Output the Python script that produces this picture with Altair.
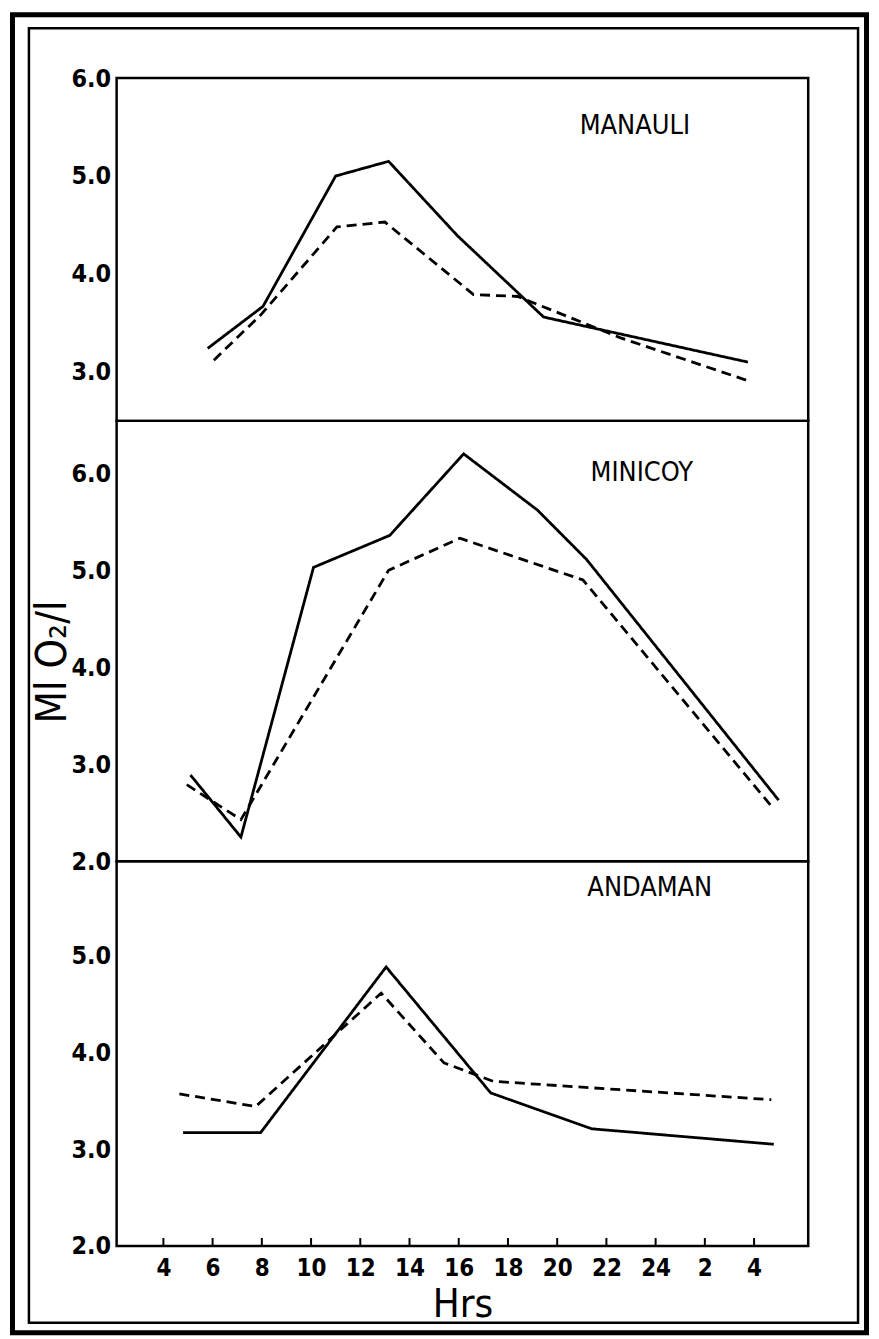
import altair as alt
import pandas as pd

# ---------------- data ----------------
STATIONS = ["MANAULI", "MINICOY", "ANDAMAN"]

MANAULI_SOLID_HRS = [5.8, 8.05, 11.0, 13.15, 15.95, 19.45, 27.75]
MANAULI_SOLID_VAL = [3.24, 3.67, 5.00, 5.15, 4.39, 3.56, 3.10]
MANAULI_DASH_HRS = [6.05, 7.95, 11.05, 13.0, 16.6, 18.4, 22.55, 27.75]
MANAULI_DASH_VAL = [3.12, 3.58, 4.48, 4.53, 3.79, 3.77, 3.35, 2.91]

MINICOY_SOLID_HRS = [5.1, 7.15, 10.1, 13.2, 16.2, 19.2, 21.2, 29.0]
MINICOY_SOLID_VAL = [2.89, 2.25, 5.03, 5.36, 6.20, 5.62, 5.11, 2.63]
MINICOY_DASH_HRS = [4.95, 7.15, 13.15, 16.05, 21.05, 28.7]
MINICOY_DASH_VAL = [2.79, 2.43, 5.00, 5.33, 4.90, 2.57]

ANDAMAN_SOLID_HRS = [4.8, 7.95, 13.05, 17.3, 21.4, 28.8]
ANDAMAN_SOLID_VAL = [3.17, 3.17, 4.88, 3.58, 3.21, 3.05]
ANDAMAN_DASH_HRS = [4.65, 7.75, 12.85, 15.4, 17.4, 28.7]
ANDAMAN_DASH_VAL = [3.57, 3.44, 4.61, 3.89, 3.70, 3.51]

X_TICKS = [4, 6, 8, 10, 12, 14, 16, 18, 20, 22, 24, 26, 28]
X_TICK_LABELS = ["4", "6", "8", "10", "12", "14", "16", "18", "20", "22", "24", "2", "4"]

Y_TICKS = {
    "MANAULI": [3.0, 4.0, 5.0, 6.0],
    "MINICOY": [2.0, 3.0, 4.0, 5.0, 6.0],
    "ANDAMAN": [2.0, 3.0, 4.0, 5.0],
}
Y_DOMAINS = {
    "MANAULI": [2.50, 6.0],
    "MINICOY": [2.0, 6.54],
    "ANDAMAN": [2.0, 5.97],
}
PANEL_H = {"MANAULI": 344, "MINICOY": 442, "ANDAMAN": 386}
X_DOMAIN = [2.1, 30.2]
W = 694

Y_LABEL = "Ml O₂/l"
X_LABEL = "Hrs"

# ---------------- build tables ----------------
SERIES = {
    "MANAULI": [(MANAULI_SOLID_HRS, MANAULI_SOLID_VAL), (MANAULI_DASH_HRS, MANAULI_DASH_VAL)],
    "MINICOY": [(MINICOY_SOLID_HRS, MINICOY_SOLID_VAL), (MINICOY_DASH_HRS, MINICOY_DASH_VAL)],
    "ANDAMAN": [(ANDAMAN_SOLID_HRS, ANDAMAN_SOLID_VAL), (ANDAMAN_DASH_HRS, ANDAMAN_DASH_VAL)],
}

FONT = "DejaVu Sans Condensed, Liberation Sans Narrow, DejaVu Sans"

label_expr = "datum.label"
for v, lab in zip(X_TICKS, X_TICK_LABELS):
    label_expr = f"datum.value == {v} ? '{lab}' : ({label_expr})"

TITLE_POS = {"MANAULI": (520, 48), "MINICOY": (527, 52), "ANDAMAN": (535, 27)}


def panel(name, first=False, last=False):
    rows = []
    for kind, (hrs, vals) in zip(["solid", "dashed"], SERIES[name]):
        for h, v in zip(hrs, vals):
            rows.append({"hour": h, "value": v, "series": kind})
    df = pd.DataFrame(rows)
    h = PANEL_H[name]

    if last:
        xaxis = alt.Axis(values=X_TICKS, labelExpr=label_expr, ticks=False, domain=False,
                         grid=False, labelFont=FONT, labelFontSize=24, labelFontWeight="bold",
                         labelColor="black", labelPadding=11, labelFlush=False, title=X_LABEL,
                         titleFont=FONT, titleFontSize=40, titleFontWeight="normal",
                         titleColor="black", titlePadding=4)
    else:
        xaxis = None

    x = alt.X("hour:Q", scale=alt.Scale(domain=X_DOMAIN, nice=False, zero=False), axis=xaxis)
    y = alt.Y("value:Q", scale=alt.Scale(domain=Y_DOMAINS[name], nice=False, zero=False),
              axis=alt.Axis(values=Y_TICKS[name], format=".1f", ticks=False, domain=False,
                            grid=False, labelFont=FONT, labelFontSize=25, labelFontWeight="bold",
                            labelColor="black", labelPadding=6, labelFlush=False, title=None))

    lines = alt.Chart(df).mark_line(color="black", strokeWidth=2.8).encode(
        x=x, y=y,
        strokeDash=alt.StrokeDash("series:N",
                                  scale=alt.Scale(domain=["solid", "dashed"], range=[[1, 0], [10, 6]]),
                                  legend=None),
        detail="series:N",
    )

    tx, ty = TITLE_POS[name]
    title = alt.Chart(pd.DataFrame({"t": [name]})).mark_text(
        font=FONT, fontSize=27, color="black", align="center", baseline="middle"
    ).encode(x=alt.value(tx), y=alt.value(ty), text="t:N")

    layers = [lines, title]

    if first:
        frame = pd.DataFrame({"k": [1]})
        outer = alt.Chart(frame).mark_rect(fill="transparent", stroke="black", strokeWidth=5).encode(
            x=alt.value(-104.5), x2=alt.value(752.5), y=alt.value(-63.5), y2=alt.value(1259))
        inner = alt.Chart(frame).mark_rect(fill="transparent", stroke="black", strokeWidth=2.5).encode(
            x=alt.value(-88), x2=alt.value(744), y=alt.value(-50), y2=alt.value(1249))
        layers = [outer, inner] + layers

    if name == "MINICOY":
        ylab = alt.Chart(pd.DataFrame({"t": [Y_LABEL]})).mark_text(
            font=FONT, fontSize=42, color="black", align="center", baseline="middle", angle=270
        ).encode(x=alt.value(-64), y=alt.value(242), text="t:N")
        layers.append(ylab)

    if last:
        ticks = alt.Chart(pd.DataFrame({"hour": X_TICKS})).mark_rule(color="black", strokeWidth=2).encode(
            x=alt.X("hour:Q", scale=alt.Scale(domain=X_DOMAIN, nice=False, zero=False)),
            y=alt.value(h), y2=alt.value(h - 8))
        layers.append(ticks)

    return alt.layer(*layers).properties(width=W, height=h)


chart = alt.vconcat(
    panel("MANAULI", first=True),
    panel("MINICOY"),
    panel("ANDAMAN", last=True),
    spacing=0,
    bounds="flush",
).resolve_scale(y="independent", strokeDash="shared").properties(
    padding=0, background="white"
).configure_view(stroke="black", strokeWidth=2.5)

chart.save("out.html", embed_options={"renderer": "svg", "actions": False})
